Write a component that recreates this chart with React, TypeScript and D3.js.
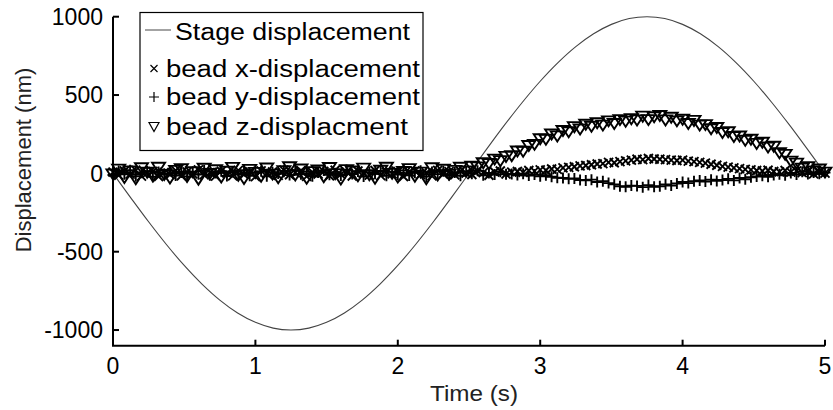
import React from "react";
import * as d3 from "d3";

// sampling step of the bead tracks (s)
const dt = 0.04;

// stage displacement (nm), sampled every 0.125 s
const stageTimes = d3.range(0, 41).map((i) => i * 0.125);
const stageValues = [
  0, -156, -309, -454, -588, -707, -809, -891, -951, -988, -1000, -988, -951,
  -891, -809, -707, -588, -454, -309, -156, 0, 156, 309, 454, 588, 707, 809,
  891, 951, 988, 1000, 988, 951, 891, 809, 707, 588, 454, 309, 156, 0,
];

// bead x-displacement (nm)
const beadX = [
  8, -12, 15, -5, 20, -18, 3, 12, -20, 6,
  -8, 18, -15, 10, -3, 22, -10, 5, -18, 14,
  2, -16, 19, -7, 11, -21, 16, -2, 9, -13,
  21, -9, 4, 17, -19, 7, -4, 13, -15, 20,
  -6, 10, -17, 15, 1, -11, 18, -14, 6, -3,
  12, -20, 9, 16, -8, 3, -16, 19, -5, 11,
  -10, 14, 2, -7, 17, 5, -12, 9, 15, -4,
  8, 12, 6, 18, 14, 22, 20, 28, 25, 35,
  38, 42, 48, 50, 55, 60, 62, 70, 68, 75,
  80, 85, 90, 88, 95, 92, 90, 88, 85, 82,
  85, 78, 75, 70, 65, 58, 52, 45, 40, 35,
  30, 25, 22, 18, 15, 20, 12, 10, 18, 8,
  15, 5, 12, -3, 10, 2,
];

// bead y-displacement (nm)
const beadY = [
  -10, 15, -6, 20, -18, 4, 12, -22, 8, -3,
  17, -14, 6, -20, 11, -5, 19, -12, 2, 14,
  -17, 9, -8, 21, -15, 3, 13, -19, 7, -1,
  16, -11, 20, -6, 10, -18, 5, 18, -9, 1,
  -14, 22, -4, 12, -20, 8, -2, 15, -16, 10,
  -7, 19, -13, 4, 17, -21, 9, -5, 14, -10,
  6, -15, 11, -3, 16, -12, 2, -8, 10, -6,
  -4, -10, -2, -14, -8, -18, -12, -22, -28, -30,
  -35, -32, -42, -45, -40, -55, -50, -62, -70, -82,
  -85, -78, -80, -88, -75, -85, -82, -70, -78, -65,
  -55, -62, -50, -45, -52, -40, -48, -42, -35, -45,
  -30, -38, -25, -20, -15, -22, -10, -5, -12, 2,
  -8, 10, -4, 6, -2, 5,
];

// bead z-displacement (nm)
const beadZ = [
  -7, 24, -29, 13, -38, 33, 4, -20, 36, -10,
  -33, 16, 26, -23, 7, -40, 29, -4, 20, -26,
  10, 35, -16, -36, 22, 3, -21, 31, -8, -31,
  14, 39, -13, 25, -35, 8, 18, -25, 34, -5,
  -39, 21, 12, -18, 30, -12, -34, 17, 36, -3,
  -27, 9, 27, -22, 5, -38, 33, -14, 23, -9,
  16, 36, 12, 42, 38, 65, 60, 88, 78, 105,
  110, 140, 138, 175, 182, 218, 215, 248, 236, 270,
  262, 295, 280, 310, 298, 320, 305, 332, 315, 340,
  330, 345, 338, 362, 340, 358, 366, 338, 355, 332,
  342, 315, 335, 305, 308, 282, 290, 258, 262, 232,
  235, 208, 215, 188, 195, 165, 170, 128, 118, 75,
  62, 30, 40, 12, 25, 5,
];

const xTicks = [0, 1, 2, 3, 4, 5];
const yTicks = [-1000, -500, 0, 500, 1000];
const legendLabels = [
  "Stage displacement",
  "bead x-displacement",
  "bead y-displacement",
  "bead z-displacment",
];
// measured widths of the legend labels in the figure (px)
const legendWidths = [235, 255, 255, 243];

const W = 833;
const H = 410;
const FONT = "'Liberation Sans', Arial, sans-serif";

const crossPath = (s) => `M${-s},${-s}L${s},${s}M${-s},${s}L${s},${-s}`;
const plusPath = (s) => `M${-s},0L${s},0M0,${-s}L0,${s}`;
const triPath = (w, h) => `M${-w},${-h}L${w},${-h}L0,${h}Z`;

export default function App() {
  const x = d3.scaleLinear().domain([0, 5]).range([113, 825]);
  const y = d3.scaleLinear().domain([-1100, 1000]).range([345.7, 16.7]);

  const line = d3
    .line()
    .x((d) => x(d[0]))
    .y((d) => y(d[1]))
    .curve(d3.curveCatmullRom);
  const stagePts = stageTimes.map((t, i) => [t, stageValues[i]]);

  const pts = (vals) => vals.map((v, i) => [i * dt, v]);

  const legendRows = [40, 76.5, 105, 135];

  return (
    <svg
      width={W}
      height={H}
      style={{ position: "absolute", left: 0, top: 0, background: "#fff" }}
      fontFamily={FONT}
    >
      <rect width={W} height={H} fill="#fff" />

      {/* stage */}
      <path
        d={line(stagePts)}
        fill="none"
        stroke="#444"
        strokeWidth={1.1}
      />

      {/* bead x */}
      <g stroke="#000" strokeWidth={1.9} fill="none">
        {pts(beadX).map((d, i) => (
          <path
            key={"x" + i}
            transform={`translate(${x(d[0])},${y(d[1])})`}
            d={crossPath(4.5)}
          />
        ))}
      </g>
      {/* bead y */}
      <g stroke="#000" strokeWidth={1.9} fill="none">
        {pts(beadY).map((d, i) => (
          <path
            key={"y" + i}
            transform={`translate(${x(d[0])},${y(d[1])})`}
            d={plusPath(5.5)}
          />
        ))}
      </g>
      {/* bead z */}
      <g stroke="#000" strokeWidth={1.9} fill="none">
        {pts(beadZ).map((d, i) => (
          <path
            key={"z" + i}
            transform={`translate(${x(d[0])},${y(d[1])})`}
            d={triPath(6.5, 5)}
          />
        ))}
      </g>

      {/* axes */}
      <g stroke="#000" strokeWidth={2} fill="none">
        <path d={`M${x(0)},${y(1000)}V${y(-1100)}H${x(5)}`} />
        {xTicks.map((t) => (
          <line key={t} x1={x(t)} x2={x(t)} y1={y(-1100)} y2={y(-1100) - 6} />
        ))}
        {yTicks.map((t) => (
          <line key={t} x1={x(0)} x2={x(0) + 6} y1={y(t)} y2={y(t)} />
        ))}
      </g>
      <g fontSize={23} fill="#000">
        {xTicks.map((t) => (
          <text key={t} x={x(t)} y={374} textAnchor="middle">
            {t}
          </text>
        ))}
        {yTicks.map((t) => (
          <text key={t} x={103} y={y(t)} dy="0.36em" textAnchor="end">
            {t}
          </text>
        ))}
        <text
          x={430}
          y={401}
          fontSize={22}
          fill="#222"
          textLength={88}
          lengthAdjust="spacingAndGlyphs"
        >
          Time (s)
        </text>
        <text
          transform={`translate(31,160) rotate(-90)`}
          textAnchor="middle"
          fontSize={22}
          fill="#222"
        >
          Displacement (nm)
        </text>
      </g>

      {/* legend */}
      <g>
        <rect
          x={140}
          y={12.5}
          width={283}
          height={138}
          fill="#fff"
          stroke="#000"
          strokeWidth={1.2}
        />
        <line x1={145} x2={171} y1={30} y2={30} stroke="#666" strokeWidth={1.2} />
        <g stroke="#000" strokeWidth={1.2} fill="none">
          <path transform={`translate(154,${legendRows[1] - 8})`} d={crossPath(3.5)} />
          <path transform={`translate(154,${legendRows[2] - 8})`} d={plusPath(5)} />
          <path transform={`translate(154,${legendRows[3] - 8})`} d={triPath(5, 4.5)} />
        </g>
        <g fontSize={23} fill="#000">
          {legendLabels.map((l, i) => (
            <text
              key={l}
              x={i === 0 ? 175 : 166}
              y={legendRows[i]}
              textLength={legendWidths[i] - (i === 0 ? 0 : 1)}
              lengthAdjust="spacingAndGlyphs"
            >
              {l}
            </text>
          ))}
        </g>
      </g>
    </svg>
  );
}
